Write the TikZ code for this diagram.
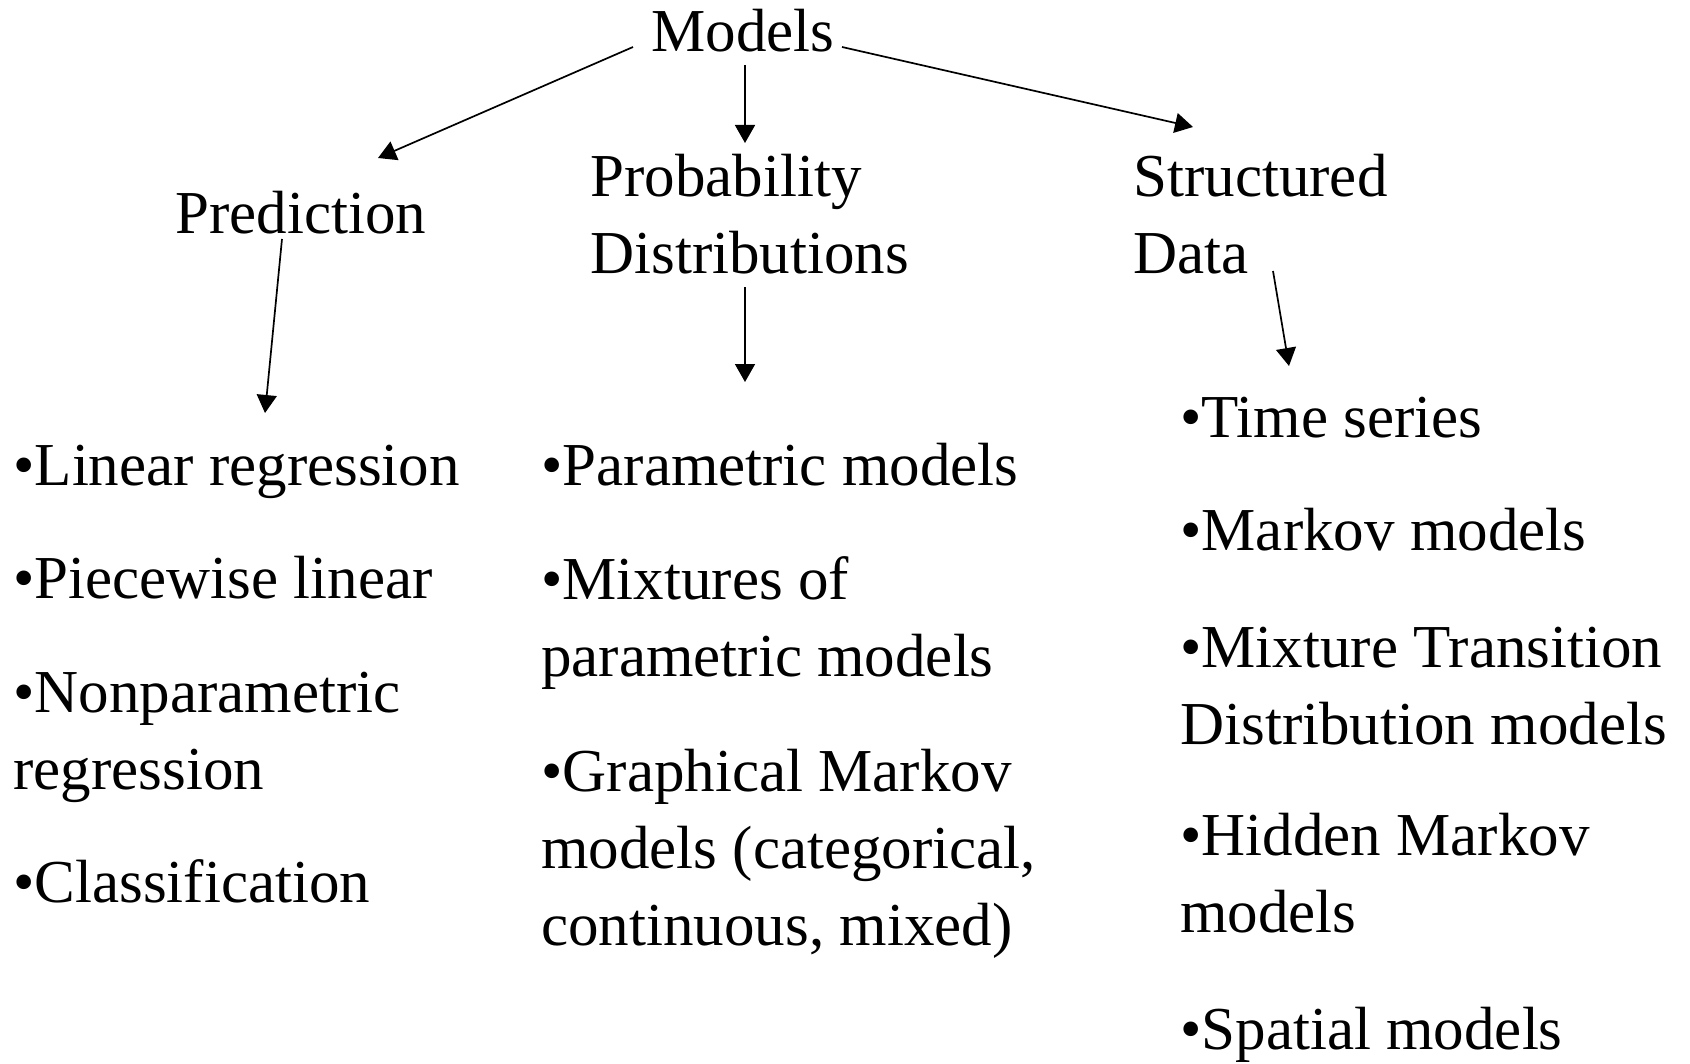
\documentclass[tikz,border=0pt]{standalone}
\usepackage{fontspec}
\setmainfont{Liberation Serif}
\usetikzlibrary{arrows.meta}
\begin{document}
\begin{tikzpicture}[x=0.5pt, y=-0.5pt, line join=round, >={Triangle[length=9pt,width=10pt]},
	font=\fontsize{30.5}{38.5}\selectfont]
	\tikzset{txt/.style={anchor=base west,inner sep=0pt,align=left},
		link/.style={->,line width=0.85pt}}
	\useasboundingbox (0,0) rectangle (1690,1064);
	% top level (multi-line nodes sit on the baseline of their last line)
	\node[inner sep=0pt,anchor=base] (models) at (743,52) {Models};
	\node[txt] (pred) at (175,234) {Prediction};
	\node[txt] (prob) at (590,273) {Probability\\Distributions};
	\node[txt] (struct) at (1133,273) {Structured\\Data};
	% left column
	\node[txt] (lin) at (13,485) {•Linear regression};
	\node[txt] (piece) at (13,598) {•Piecewise linear};
	\node[txt] (nonpar) at (13,789) {•Nonparametric\\regression};
	\node[txt] (class) at (13,902) {•Classification};
	% middle column
	\node[txt] (param) at (541,485) {•Parametric models};
	\node[txt] (mixt) at (541,676) {•Mixtures of\\parametric models};
	\node[txt] (graph) at (541,945) {•Graphical Markov\\models (categorical,\\continuous, mixed)};
	% right column
	\node[txt] (time) at (1180,437) {•Time series};
	\node[txt] (markov) at (1180,550) {•Markov models};
	\node[txt] (mtd) at (1180,744) {•Mixture Transition\\Distribution models};
	\node[txt] (hidden) at (1180,932) {•Hidden Markov\\models};
	\node[txt] (spatial) at (1180,1049) {•Spatial models};
	% arrows
	\draw[link] ([shift={(-110,-5)}]models.base) -- ([shift={(203,-76)}]pred.base west);
	\draw[link] ([shift={(2,13)}]models.base) -- ([shift={(155,-130)}]prob.base west);
	\draw[link] ([shift={(99,-5)}]models.base) -- ([shift={(60,-146)}]struct.base west);
	\draw[link] ([shift={(107,5)}]pred.base west) -- ([shift={(252,-72)}]lin.base west);
	\draw[link] ([shift={(155,14)}]prob.base west) -- ([shift={(204,-103)}]param.base west);
	\draw[link] ([shift={(140,-2)}]struct.base west) -- ([shift={(109,-71)}]time.base west);
\end{tikzpicture}
\end{document}
